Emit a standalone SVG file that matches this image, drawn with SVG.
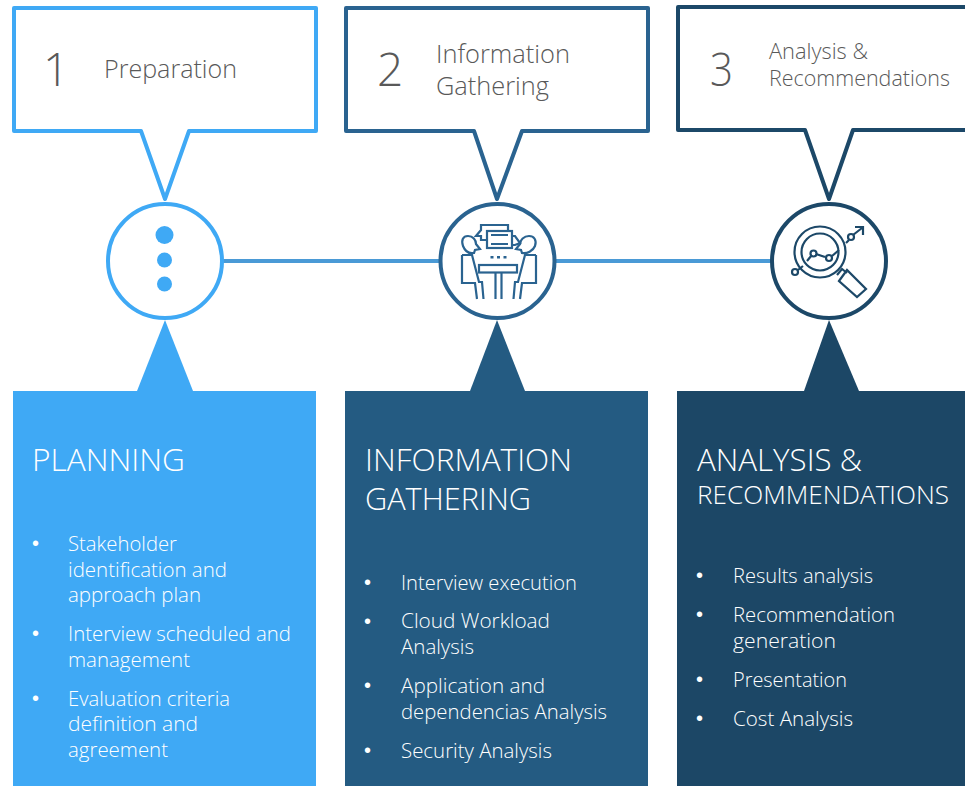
<svg xmlns="http://www.w3.org/2000/svg" width="965" height="786" viewBox="0 0 965 786">
<style>
text{font-family:"Open Sans","Noto Sans","Liberation Sans",sans-serif;font-weight:300}
.num{font-size:46px;fill:#595959}
.cap{font-size:26px;fill:#595959}
.cap3{font-size:22px;fill:#595959}
.head{font-size:31px;fill:#fff}
.sub{font-size:25px;fill:#fff}
.li{font-size:20px;fill:#fff}
.bu{font-size:20px;fill:#fff;font-family:"Liberation Sans",sans-serif}
.call{fill:#fff;stroke-width:4;stroke-linejoin:round}
.ring{fill:#fff;stroke-width:4}
.ic{fill:none;stroke-width:2.2;stroke-linejoin:miter}
.c1{stroke:#3fa9f5}.f1{fill:#3fa9f5}
.c2{stroke:#2a6390}.f2{fill:#2a6390}
.p2{fill:#245b82}
.c3{stroke:#1c4868}.f3{fill:#1c4766}
</style>
<g id="connectors"><path d="M222 261H772" stroke="#4a9ad6" stroke-width="4" fill="none"/></g>
<g id="node-1">
<path class="call c1" d="M14 8H316V131H189L165 199L141 131H14Z"/>
<text class="num" x="43" y="86">1</text>
<text class="cap" x="104" y="78" textLength="133" lengthAdjust="spacingAndGlyphs">Preparation</text>
<circle class="ring c1" cx="165" cy="261" r="57"/>
<circle class="f1" cx="164.500" cy="235" r="9"/><circle class="f1" cx="164.500" cy="260" r="7.5"/><circle class="f1" cx="164.500" cy="284" r="7.5"/>
<path class="f1" d="M165 320L193 391H137Z"/>
<rect class="f1" x="13" y="391" width="303" height="395"/>
<text class="head" x="32" y="471" textLength="153" lengthAdjust="spacingAndGlyphs">PLANNING</text>
<text class="bu" x="32" y="550">•</text><text class="li" x="68" y="551" textLength="109" lengthAdjust="spacingAndGlyphs">Stakeholder</text>
<text class="li" x="68" y="577" textLength="159" lengthAdjust="spacingAndGlyphs">identification and</text>
<text class="li" x="68" y="602" textLength="133" lengthAdjust="spacingAndGlyphs">approach plan</text>
<text class="bu" x="32" y="640">•</text><text class="li" x="68" y="641" textLength="223" lengthAdjust="spacingAndGlyphs">Interview scheduled and</text>
<text class="li" x="68" y="667" textLength="122" lengthAdjust="spacingAndGlyphs">management</text>
<text class="bu" x="32" y="705">•</text><text class="li" x="68" y="706" textLength="162" lengthAdjust="spacingAndGlyphs">Evaluation criteria</text>
<text class="li" x="68" y="731" textLength="130" lengthAdjust="spacingAndGlyphs">definition and</text>
<text class="li" x="68" y="757" textLength="100" lengthAdjust="spacingAndGlyphs">agreement</text>
</g>
<g id="node-2">
<path class="call c2" d="M346 8H648V131H522L497 199L474 131H346Z"/>
<text class="num" x="377" y="86">2</text>
<text class="cap" x="436" y="63" textLength="134" lengthAdjust="spacingAndGlyphs">Information</text>
<text class="cap" x="436" y="95" textLength="113" lengthAdjust="spacingAndGlyphs">Gathering</text>
<circle class="ring c2" cx="497.500" cy="261" r="57"/>
<g class="ic c2">
<path d="M487 240H481V236L476 236L481 230V225H508V231"/>
<rect x="487" y="231" width="25" height="17"/>
<path d="M512 236H515L520 243L515 245H512M491 235H508M491 244H508"/>
<path d="M474 253C469 254 465 251 463 246C461 240 463 236 468 236C473 236 476 240 476 244L480 249L475 250Z"/>
<path d="M522 253C527 254 533 251 535 246C537 240 534 236 529 236C524 236 520 240 520 244L516 249L521 250Z"/>
<path d="M462 255H472L479 282H482L483.500 299M462 255V283H475L477 299"/>
<path d="M536 255H525L518 282H515L513.500 299M536 255V283H522L520 299"/>
<rect x="479" y="265" width="38" height="7.500"/>
<path d="M495.500 272.500V299M501.500 272.500V299"/>
</g>
<path class="f2" d="M490.500 256h3v2.500h-3zM497 256h3v2.500h-3zM503.500 256h3v2.500h-3z"/>
<path class="p2" d="M497 320L525 391H470Z"/>
<rect class="p2" x="345" y="391" width="303" height="395"/>
<text class="head" x="365" y="471" textLength="207" lengthAdjust="spacingAndGlyphs">INFORMATION</text>
<text class="head" x="365" y="510" textLength="166" lengthAdjust="spacingAndGlyphs">GATHERING</text>
<text class="bu" x="364" y="589">•</text><text class="li" x="401" y="590" textLength="176" lengthAdjust="spacingAndGlyphs">Interview execution</text>
<text class="bu" x="364" y="628">•</text><text class="li" x="401" y="628" textLength="149" lengthAdjust="spacingAndGlyphs">Cloud Workload</text>
<text class="li" x="401" y="654" textLength="73" lengthAdjust="spacingAndGlyphs">Analysis</text>
<text class="bu" x="364" y="692">•</text><text class="li" x="401" y="693" textLength="144" lengthAdjust="spacingAndGlyphs">Application and</text>
<text class="li" x="401" y="719" textLength="206" lengthAdjust="spacingAndGlyphs">dependencias Analysis</text>
<text class="bu" x="364" y="757">•</text><text class="li" x="401" y="758" textLength="151" lengthAdjust="spacingAndGlyphs">Security Analysis</text>
</g>
<g id="node-3">
<path class="call c3" d="M678 7H967V130H853L829 199L805 130H678Z"/>
<text class="num" x="710" y="86" textLength="23" lengthAdjust="spacingAndGlyphs">3</text>
<text class="cap3" x="769" y="59" textLength="99" lengthAdjust="spacingAndGlyphs">Analysis &amp;</text>
<text class="cap3" x="769" y="86" textLength="181" lengthAdjust="spacingAndGlyphs">Recommendations</text>
<circle class="ring c3" cx="829" cy="261" r="57"/>
<g class="ic c3">
<circle cx="820" cy="252" r="25.500"/><circle cx="820" cy="252" r="18.500"/>
<path d="M807 261L811.500 255.500M816 254L825 257M832 256L839 250M846 243L849 240M853 235L862 228M855 227H863V235M798 270L803 266"/>
<circle cx="813.500" cy="253.500" r="3"/><circle cx="829" cy="258" r="3"/><circle cx="851" cy="237" r="3"/><circle cx="795" cy="272" r="3"/>
<path d="M837 275L842 269L847 273M839 281L847 270L866 289L857 297Z"/>
</g>
<path class="f3" d="M829 320L859 391H804Z"/>
<rect class="f3" x="677" y="391" width="288" height="395"/>
<text class="head" x="697" y="471" textLength="165" lengthAdjust="spacingAndGlyphs">ANALYSIS &amp;</text>
<text class="sub" x="697" y="504" textLength="252" lengthAdjust="spacingAndGlyphs">RECOMMENDATIONS</text>
<text class="bu" x="696" y="582">•</text><text class="li" x="733" y="583" textLength="140" lengthAdjust="spacingAndGlyphs">Results analysis</text>
<text class="bu" x="696" y="621">•</text><text class="li" x="733" y="622" textLength="162" lengthAdjust="spacingAndGlyphs">Recommendation</text>
<text class="li" x="733" y="648" textLength="103" lengthAdjust="spacingAndGlyphs">generation</text>
<text class="bu" x="696" y="686">•</text><text class="li" x="733" y="687" textLength="114" lengthAdjust="spacingAndGlyphs">Presentation</text>
<text class="bu" x="696" y="725">•</text><text class="li" x="733" y="726" textLength="120" lengthAdjust="spacingAndGlyphs">Cost Analysis</text>
</g>
</svg>
